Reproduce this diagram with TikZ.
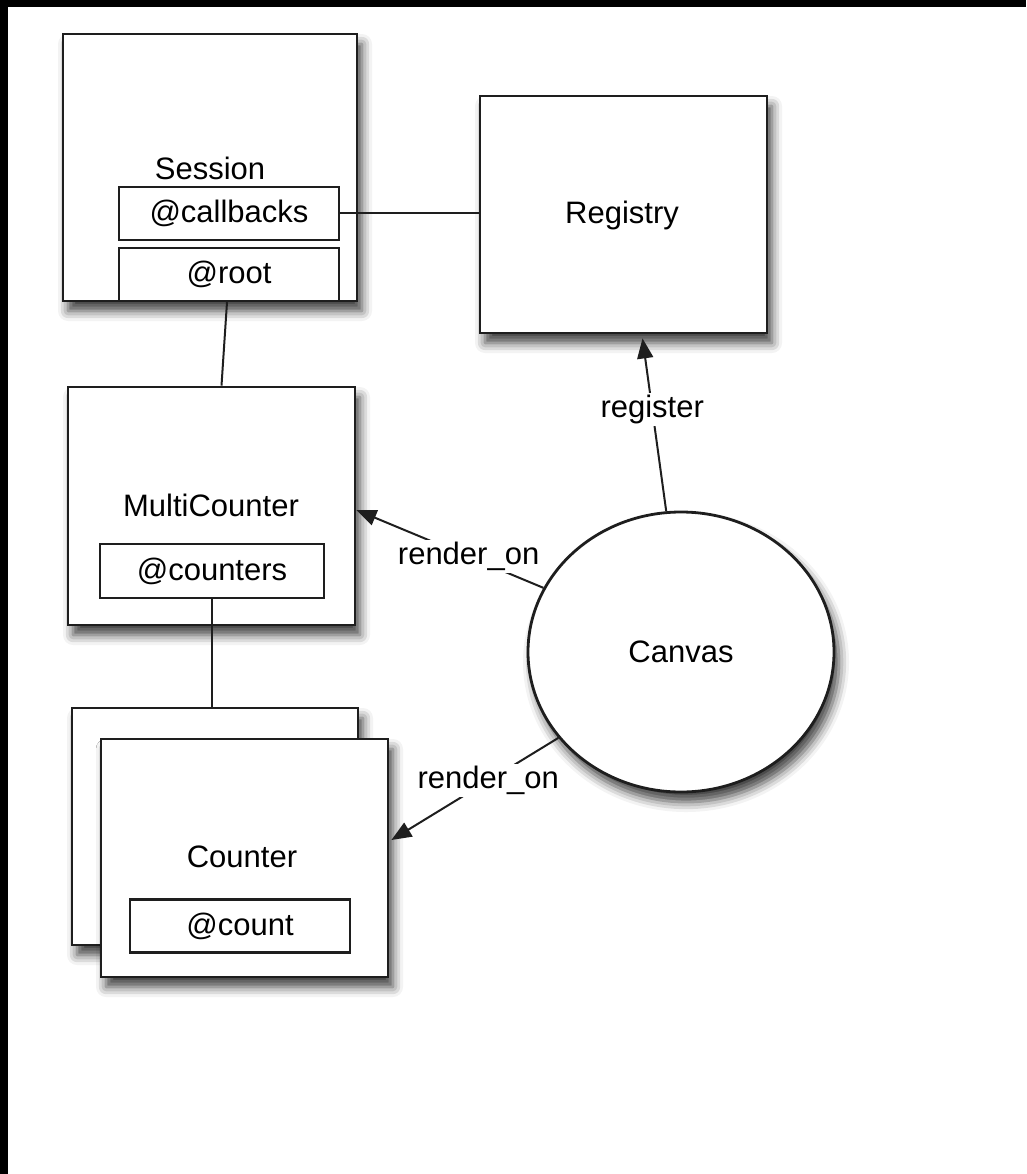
\documentclass[tikz,border=0pt]{standalone}
\usepackage{fontspec}
\setmainfont{Liberation Sans}
\usepackage{tikz}
\usetikzlibrary{
  arrows.meta,
  calc,
  positioning,
  shapes.geometric,
  shadows.blur,
}
\definecolor{framegray}{RGB}{30, 30, 30}
\tikzstyle{box} = [
  rectangle,
  draw=framegray,
  line width=2.8pt,
  fill=white,
  inner sep=0pt,
  blur shadow={shadow xshift=5pt, shadow yshift=-10pt, shadow blur radius=10pt, shadow opacity=75},
]
\tikzstyle{field} = [
  rectangle,
  draw=framegray,
  line width=2.4pt,
  fill=white,
  inner sep=0pt,
  minimum width=220pt,
  minimum height=53pt,
  font=\fontsize{31}{36}\selectfont,
]
\tikzstyle{title} = [
  inner sep=0pt,
  font=\fontsize{31}{36}\selectfont,
]
\tikzstyle{arrow} = [
  -{Triangle[length=20pt,width=16pt]},
  line width=2pt,
  draw=framegray,
  font=\fontsize{31}{36}\selectfont,
]

\begin{document}
\begin{tikzpicture}[x=1pt,y=-1pt]
			\useasboundingbox (0,0) rectangle (1026,1174);
			\fill[black] (0,0) rectangle (1026,7);
			\fill[black] (0,0) rectangle (8,1174);

			% Session and its fields
			\node[box,minimum width=294pt,minimum height=267pt] (session) at (210,167.5) {};
			\node[title] (sessionlbl) at (210,168) {Session};
			\node[field] (callbacks) at (229,213.5) {@callbacks};
			\node[field] (root) at (229,274.5) {@root};

			\node[box,minimum width=287pt,minimum height=237pt] (registry) at (623.5,214.5) {};
			\node[title] (registrylbl) at (622,215) {Registry};

			\node[box,minimum width=287pt,minimum height=238pt] (multi) at (211.5,506) {};
			\node[title] (multilbl) at (211,505) {MultiCounter};
			\node[field,minimum width=224pt,minimum height=54pt] (counters) at (212,571) {@counters};

			% stacked counters
			\node[box,minimum width=286pt,minimum height=237pt] (counterback) at (215,826.5) {};
			\node[box,minimum width=287pt,minimum height=238pt] (counter) at (244.5,858) {};
			\node[title] (counterlbl) at (242,857) {Counter};
			\node[field] (count) at (240,926) {@count};

			\node[box,ellipse,minimum width=306pt,minimum height=280pt] (canvas) at (681,652) {};
			\node[title] (canvaslbl) at (681,652) {Canvas};

			\draw[line width=2pt,draw=framegray] (callbacks.east) -- (callbacks.east -| registry.west);
			\draw[line width=2pt,draw=framegray] ([xshift=-2pt]root.south) -- ([xshift=10pt]multi.north);
			\draw[line width=2pt,draw=framegray] (counters.south) -- (counters.south |- counterback.north);

			\draw[arrow] (canvas.96) -- node[pos=0.59,fill=white,inner sep=2pt] {register} ([xshift=19pt,yshift=-4pt]registry.south);
			\draw[arrow] (canvas.155) -- node[pos=0.40,fill=white,inner sep=2pt] {render\_on} ([yshift=-4pt]multi.east);
			\draw[arrow] (canvas.215) -- node[pos=0.42,fill=white,inner sep=2pt] {render\_on} ([xshift=2pt,yshift=18pt]counter.east);
		\end{tikzpicture}
\end{document}
